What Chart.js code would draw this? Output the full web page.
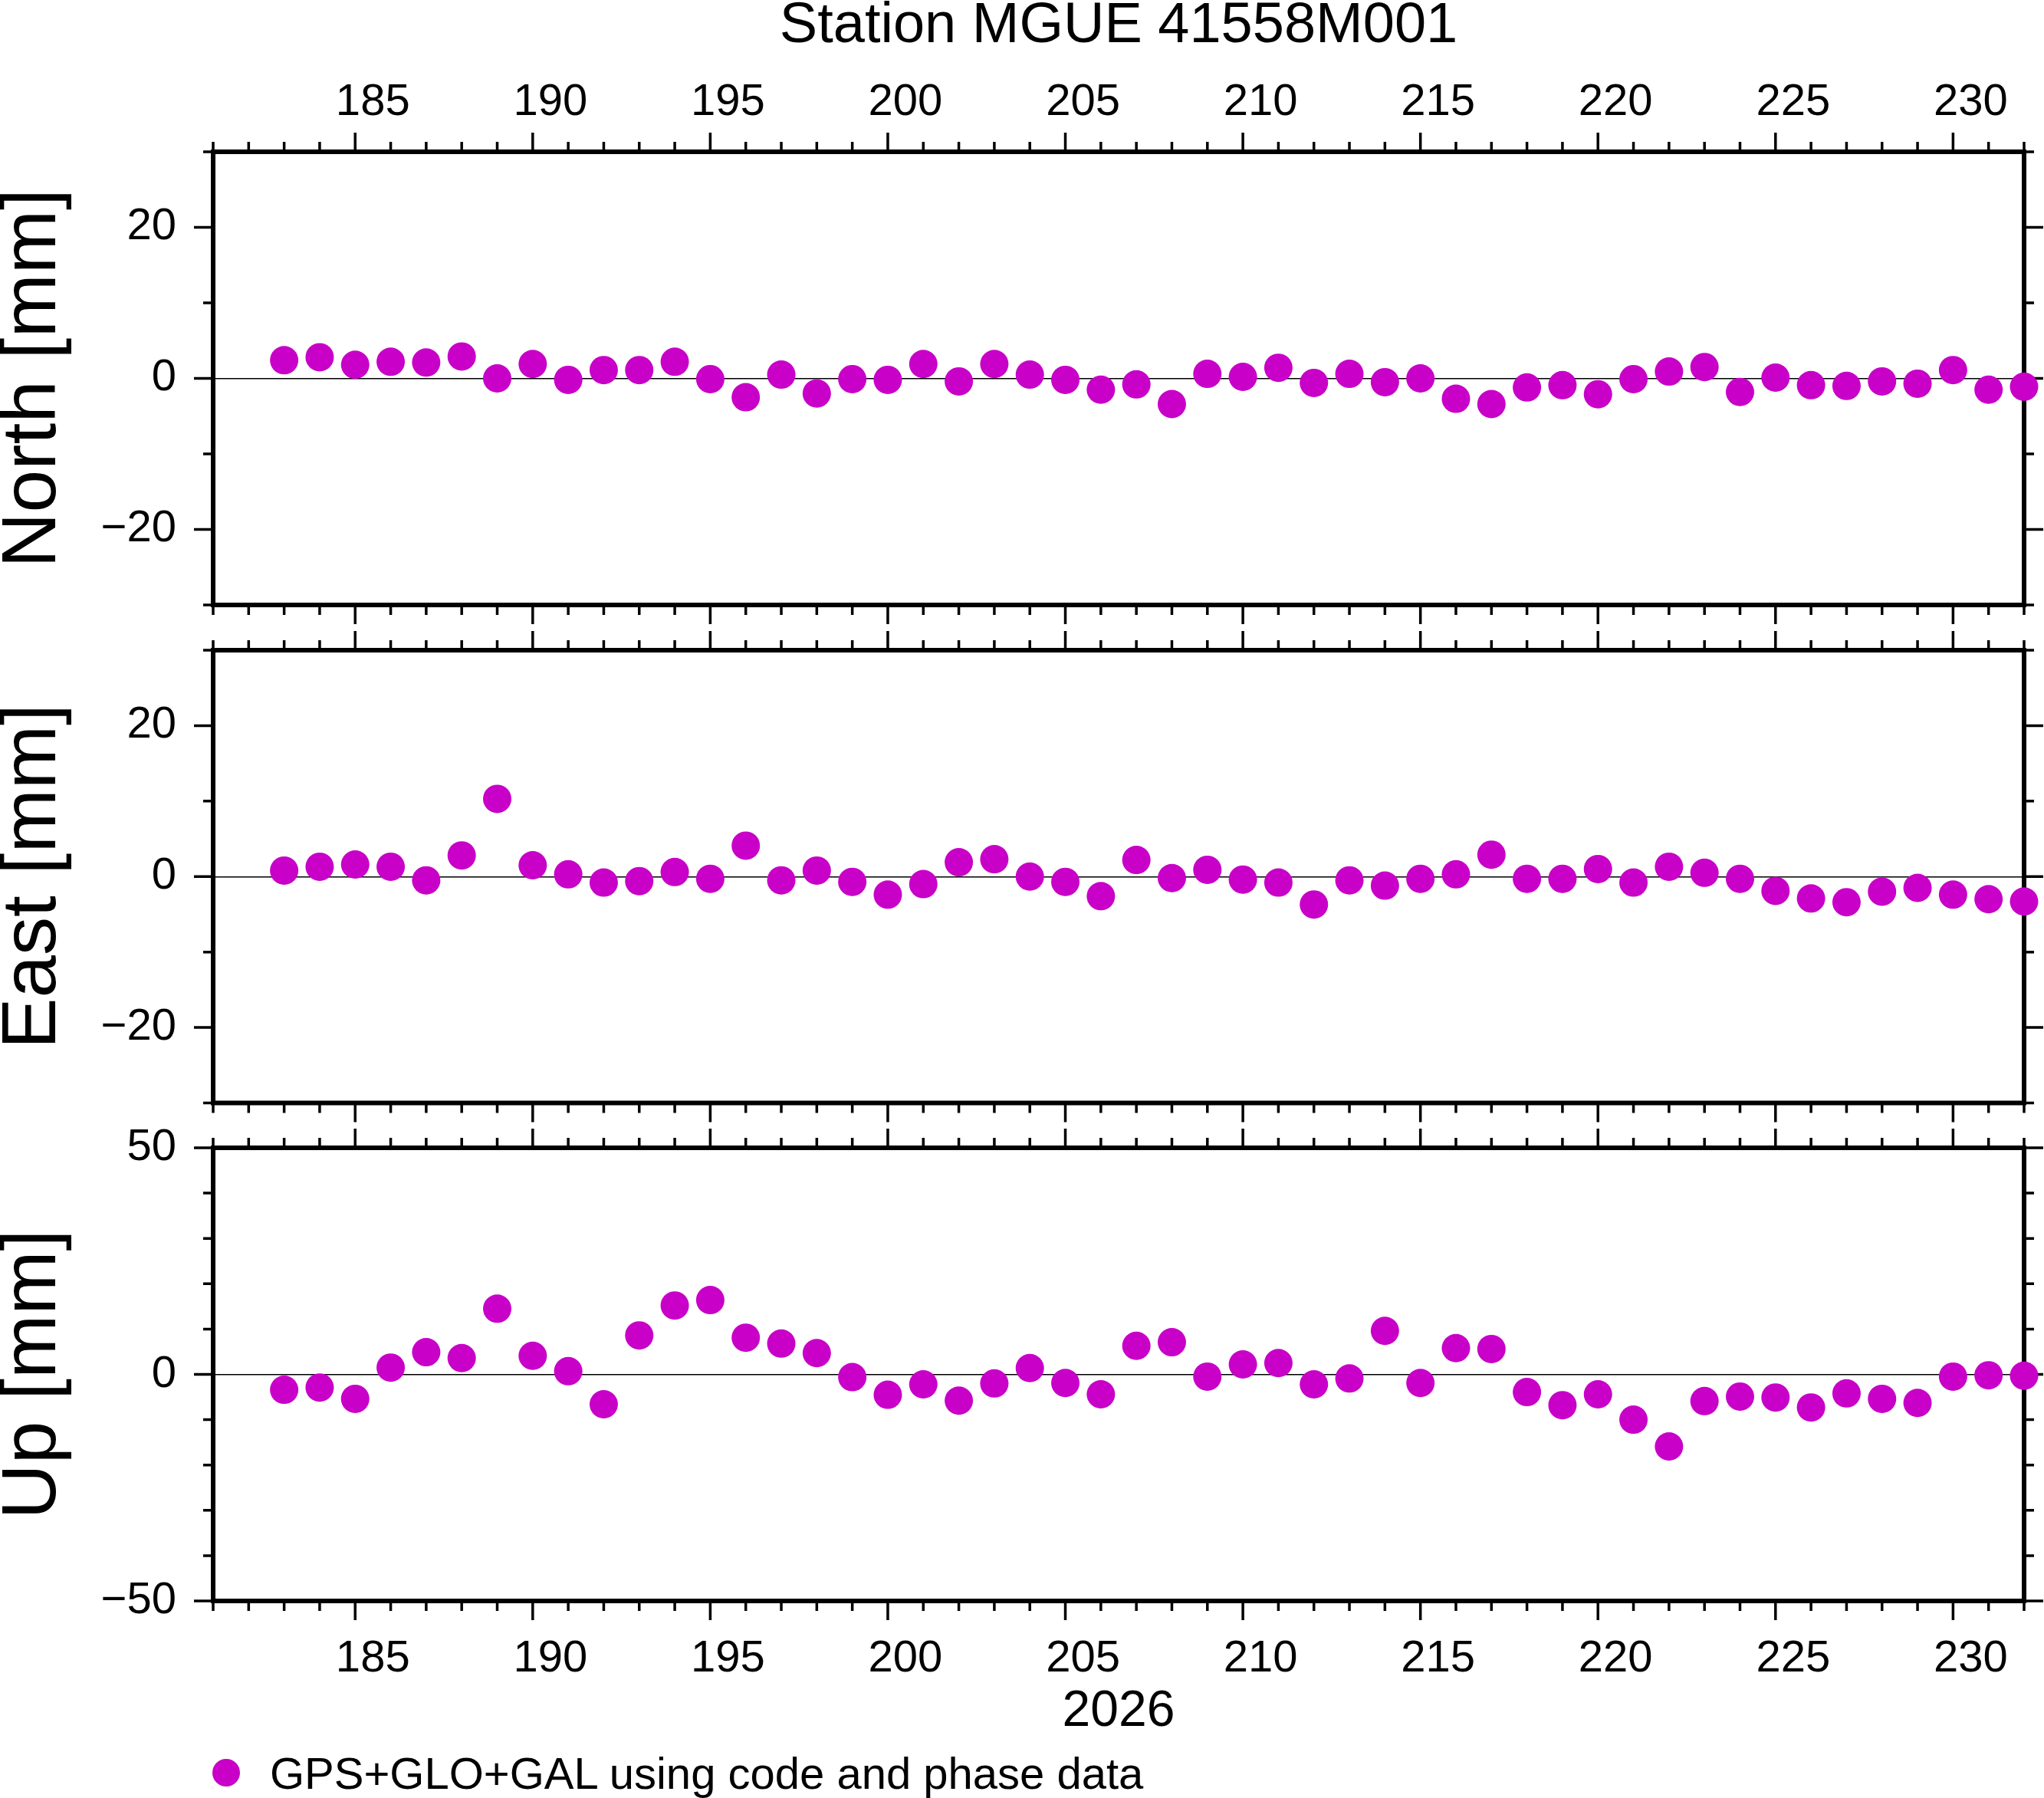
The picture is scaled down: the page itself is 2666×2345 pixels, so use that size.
<!DOCTYPE html>
<html>
<head>
<meta charset="utf-8">
<title>Station MGUE 41558M001</title>
<script src="https://cdn.jsdelivr.net/npm/chart.js@4"></script>
<style>
  html, body { margin: 0; padding: 0; background: #fff; overflow: hidden; }
  body { width: 2666px; height: 2345px; position: relative; font-family: "Liberation Sans", Arial, sans-serif; }
  canvas { position: absolute; left: 0; }
  #legend .dot { position: absolute; left: 277px; top: 2294px; width: 36px; height: 36px; border-radius: 50%; background: #c800c8; }
  #legend .txt { position: absolute; left: 352px; top: 2284px; font-size: 58px; line-height: 58px; white-space: nowrap; color: #000; }
</style>
</head>
<body>
<canvas id="cvNorth" width="2666" height="818" style="top:0px"></canvas>
<canvas id="cvEast" width="2666" height="649" style="top:818px"></canvas>
<canvas id="cvUp" width="2666" height="878" style="top:1467px"></canvas>
<div id="legend">
  <span class="dot"></span>
  <span class="txt">GPS+GLO+GAL using code and phase data</span>
</div>
<script>
/* =======================
   DATA
======================= */
const stationTitle = "Station MGUE 41558M001";
const yearLabel = "2026";

// day of year
const days = [183, 184, 185, 186, 187, 188, 189, 190, 191, 192,
  193, 194, 195, 196, 197, 198, 199, 200, 201, 202,
  203, 204, 205, 206, 207, 208, 209, 210, 211, 212,
  213, 214, 215, 216, 217, 218, 219, 220, 221, 222,
  223, 224, 225, 226, 227, 228, 229, 230, 231, 232];

// mm
const north = [2.4, 2.8, 1.8, 2.2, 2.1, 2.9, 0.0, 1.9, -0.2, 1.1,
  1.1, 2.2, -0.1, -2.5, 0.5, -2.0, -0.1, -0.2, 1.9, -0.4,
  1.9, 0.5, -0.2, -1.5, -0.8, -3.4, 0.6, 0.2, 1.4, -0.6,
  0.6, -0.5, 0.0, -2.7, -3.4, -1.2, -0.9, -2.1, -0.1, 0.9,
  1.5, -1.8, 0.1, -0.9, -1.0, -0.4, -0.7, 1.1, -1.5, -1.1];

const east = [0.8, 1.3, 1.6, 1.3, -0.5, 2.8, 10.3, 1.5, 0.3, -0.8,
  -0.6, 0.6, -0.3, 4.1, -0.5, 0.8, -0.7, -2.4, -1.0, 1.9,
  2.3, 0.0, -0.7, -2.6, 2.2, -0.2, 0.9, -0.4, -0.8, -3.7,
  -0.5, -1.2, -0.3, 0.3, 2.9, -0.3, -0.3, 1.0, -0.8, 1.3,
  0.5, -0.3, -1.9, -2.9, -3.4, -2.0, -1.5, -2.4, -3.0, -3.3];

const up = [-3.4, -2.9, -5.4, 1.5, 4.9, 3.6, 14.5, 4.1, 0.7, -6.6,
  8.6, 15.2, 16.4, 8.1, 6.8, 4.7, -0.6, -4.5, -2.2, -5.8,
  -2.0, 1.4, -1.9, -4.4, 6.3, 7.1, -0.5, 2.2, 2.5, -2.2,
  -0.9, 9.6, -1.9, 5.8, 5.6, -3.9, -6.8, -4.4, -10.0, -15.9,
  -5.9, -4.9, -5.1, -7.3, -4.2, -5.4, -6.3, -0.5, -0.2, -0.3];

// tick labels
const xTickLabels = [185, 190, 195, 200, 205, 210, 215, 220, 225, 230];
const neTickLabels = [-20, 0, 20];
const upTickLabels = [-50, 0, 50];

/* =======================
   STYLE
======================= */
const dotColor = "#c800c8";
const FONT = "'Liberation Sans', Arial, sans-serif";
Chart.defaults.font.family = FONT;
Chart.defaults.color = "#000";

function fmtNum(v) {
  return v < 0 ? "\u2212" + Math.abs(v) : String(v);
}

// fixed axis box, no extra label padding asked from the layout
function fixBox(s, w, h) {
  if (w !== undefined) s.width = w;
  if (h !== undefined) s.height = h;
  s.paddingLeft = s.paddingRight = s.paddingTop = s.paddingBottom = 0;
}

/* =======================
   FRAME + TICKS PLUGIN
======================= */
const frameTicks = {
  id: "frameTicks",
  beforeDatasetsDraw(chart, args, opts) {
    const { ctx, chartArea: a } = chart;
    const xs = chart.scales.x;
    const ys = chart.scales.y;

    ctx.save();
    ctx.strokeStyle = "#000";
    ctx.lineWidth = 3.5;
    ctx.beginPath();

    // day ticks, long every 5 days
    for (let d = xs.min; d <= xs.max; d++) {
      const px = xs.getPixelForValue(d);
      const len = d % 5 === 0 ? 25 : 13;
      ctx.moveTo(px, a.top);
      ctx.lineTo(px, a.top - len);
      ctx.moveTo(px, a.bottom);
      ctx.lineTo(px, a.bottom + len);
    }

    // mm ticks every 10
    for (let v = ys.min; v <= ys.max; v += 10) {
      const py = ys.getPixelForValue(v);
      const len = v % opts.yMajor === 0 ? 25 : 13;
      ctx.moveTo(a.left, py);
      ctx.lineTo(a.left - len, py);
      ctx.moveTo(a.right, py);
      ctx.lineTo(a.right + len, py);
    }
    ctx.stroke();

    ctx.lineWidth = 6;
    ctx.strokeRect(a.left, a.top, a.right - a.left, a.bottom - a.top);
    ctx.restore();
  }
};

/* =======================
   BUILD ONE PANEL
======================= */
function makePanel(canvasId, values, opt) {
  const points = days.map((d, i) => ({ x: d, y: values[i] }));

  const xScale = {
    type: "linear",
    position: opt.xPos || "bottom",
    min: 181,
    max: 232,
    display: opt.xLabels,
    grid: { display: false },
    border: { display: false },
    ticks: {
      stepSize: 1,
      autoSkip: false,
      maxRotation: 0,
      labelOffset: 23,
      padding: opt.xPad || 40,
      font: { size: 58, lineHeight: 1 },
      callback: v => (xTickLabels.includes(v) ? String(v) : "")
    },
    afterFit: s => fixBox(s, undefined, opt.xHeight)
  };
  if (opt.xTitle) {
    xScale.title = { display: true, text: opt.xTitle, font: { size: 66, lineHeight: 1 }, padding: 0 };
  }

  return new Chart(document.getElementById(canvasId), {
    type: "scatter",
    data: {
      datasets: [{
        label: "GPS+GLO+GAL using code and phase data",
        data: points,
        pointRadius: 18.5,
        pointHoverRadius: 18.5,
        pointBackgroundColor: dotColor,
        pointBorderWidth: 0,
        clip: false
      }]
    },
    options: {
      responsive: false,
      devicePixelRatio: 1,
      animation: false,
      events: [],
      layout: { autoPadding: false, padding: opt.padding },
      plugins: {
        legend: { display: false },
        tooltip: { enabled: false },
        title: opt.title
          ? { display: true, text: opt.title, fullSize: false, font: { size: 74, lineHeight: 0.94, weight: "normal" }, padding: 0 }
          : { display: false },
        frameTicks: { yMajor: opt.yMajor }
      },
      scales: {
        x: xScale,
        y: {
          type: "linear",
          min: opt.yMin,
          max: opt.yMax,
          grid: {
            drawTicks: false,
            lineWidth: 1.5,
            color: c => (c.tick && c.tick.value === 0 ? "#000" : "rgba(0,0,0,0)")
          },
          border: { display: false },
          ticks: {
            stepSize: 10,
            autoSkip: false,
            padding: 48,
            font: { size: 58, lineHeight: 1 },
            callback: v => (opt.yLabels.includes(v) ? fmtNum(v) : "")
          },
          title: { display: true, text: opt.yTitle, font: { size: 100, lineHeight: 0.89 }, padding: 0 },
          afterFit: s => fixBox(s, 278, undefined)
        }
      }
    },
    plugins: [frameTicks]
  });
}

/* =======================
   START
======================= */
makePanel("cvNorth", north, {
  title: stationTitle,
  xPos: "top",
  xLabels: true,
  xHeight: 128.4,
  xPad: 27,
  padding: { top: 0, left: 0, right: 26, bottom: 29 },
  yMin: -30, yMax: 30, yMajor: 20, yLabels: neTickLabels,
  yTitle: "North [mm]"
});

makePanel("cvEast", east, {
  xLabels: false,
  padding: { top: 30, left: 0, right: 26, bottom: 28.5 },
  yMin: -30, yMax: 30, yMajor: 20, yLabels: neTickLabels,
  yTitle: "East [mm]"
});

makePanel("cvUp", up, {
  xLabels: true,
  xHeight: 177.5,
  xPad: 39,
  xTitle: yearLabel,
  padding: { top: 30, left: 0, right: 26, bottom: 79.5 },
  yMin: -50, yMax: 50, yMajor: 50, yLabels: upTickLabels,
  yTitle: "Up [mm]"
});
</script>
</body>
</html>
